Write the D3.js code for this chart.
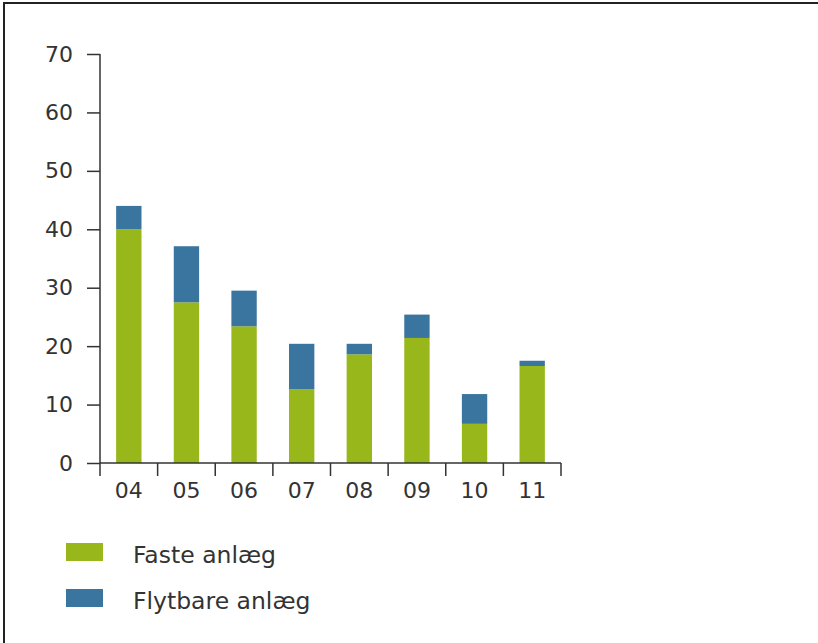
<!DOCTYPE html>
<html>
<head>
<meta charset="utf-8">
<script src="https://cdn.jsdelivr.net/npm/d3@7"></script>
<style>
  html, body { margin: 0; padding: 0; background: #fff; }
  svg { display: block; }
  text { font-family: "DejaVu Sans", Verdana, sans-serif; fill: #333; }
</style>
</head>
<body>
<svg id="chart" width="818" height="643"></svg>
<script>
const categories = ["04", "05", "06", "07", "08", "09", "10", "11"];
const fasteAnlaeg = [40.0, 27.5, 23.4, 12.6, 18.6, 21.4, 6.7, 16.6];
const flytbareAnlaeg = [4.0, 9.6, 6.1, 7.8, 1.8, 4.0, 5.1, 0.9];
const seriesNames = ["Faste anlæg", "Flytbare anlæg"];
const yTicks = [0, 10, 20, 30, 40, 50, 60, 70];

const colors = ["#97b71a", "#3a75a0"];
const svg = d3.select("#chart");

// frame (top and left edges)
svg.append("line").attr("x1", 3).attr("x2", 818).attr("y1", 3).attr("y2", 3)
  .attr("stroke", "#222").attr("stroke-width", 2);
svg.append("line").attr("x1", 4).attr("x2", 4).attr("y1", 3).attr("y2", 643)
  .attr("stroke", "#222").attr("stroke-width", 2);

const x = d3.scaleBand().domain(categories).range([100, 561]).paddingInner(0.56).paddingOuter(0.28);
const y = d3.scaleLinear().domain([0, 70]).range([463, 54]);

const rows = categories.map((c, i) => ({ cat: c, faste: fasteAnlaeg[i], flyt: flytbareAnlaeg[i] }));
const stack = d3.stack().keys(["faste", "flyt"]);
const layers = stack(rows);

const g = svg.append("g");
g.selectAll("g.layer").data(layers).join("g")
  .attr("fill", (d, i) => colors[i])
  .selectAll("rect").data(d => d).join("rect")
  .attr("x", d => x(d.data.cat))
  .attr("width", x.bandwidth())
  .attr("y", d => y(d[1]))
  .attr("height", d => y(d[0]) - y(d[1]));

// y axis
const yAxis = d3.axisLeft(y).tickValues(yTicks).tickSize(13).tickPadding(14).tickSizeOuter(0);
const ya = svg.append("g").attr("transform", "translate(100,0)").call(yAxis);
ya.select(".domain").remove();
ya.selectAll(".tick line").attr("stroke", "#333").attr("stroke-width", 1.5);
ya.selectAll(".tick text").style("font-size", "22px").attr("fill", "#333")
  .style("font-family", "DejaVu Sans, Verdana, sans-serif");
svg.append("line").attr("x1", 100).attr("x2", 100).attr("y1", y(70)).attr("y2", 476)
  .attr("stroke", "#333").attr("stroke-width", 1.5);

// x axis
const xa = svg.append("g").attr("transform", `translate(0,${y(0)})`)
  .call(d3.axisBottom(x).tickSize(0).tickPadding(19));
xa.select(".domain").remove();
xa.selectAll(".tick text").style("font-size", "22px").attr("fill", "#333")
  .style("font-family", "DejaVu Sans, Verdana, sans-serif");
svg.append("line").attr("x1", 100).attr("x2", 561).attr("y1", y(0)).attr("y2", y(0))
  .attr("stroke", "#333").attr("stroke-width", 1.5);
const boundaries = categories.slice(1).map(c => x(c) - x.step() * x.paddingInner() / 2).concat([561]);
svg.selectAll("line.xtick").data(boundaries).join("line")
  .attr("class", "xtick")
  .attr("x1", d => d).attr("x2", d => d)
  .attr("y1", y(0)).attr("y2", y(0) + 13)
  .attr("stroke", "#333").attr("stroke-width", 1.5);

// legend
const legend = svg.append("g");
seriesNames.forEach((name, i) => {
  const ly = 543 + i * 46;
  legend.append("rect").attr("x", 66).attr("y", ly).attr("width", 37).attr("height", 18).attr("fill", colors[i]);
  legend.append("text").attr("x", 133).attr("y", ly + 20).style("font-size", "23.5px").text(name);
});
</script>
</body>
</html>
